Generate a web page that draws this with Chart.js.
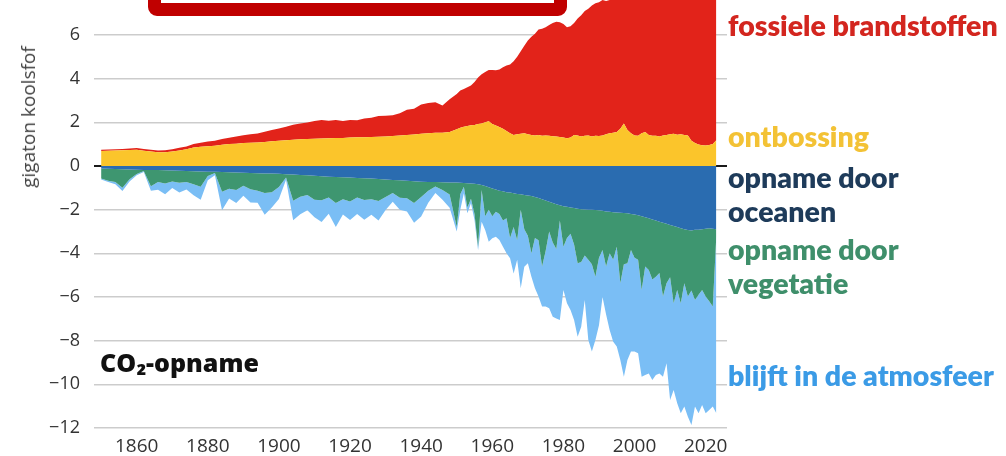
<!DOCTYPE html>
<html>
<head>
<meta charset="utf-8">
<script src="https://cdn.jsdelivr.net/npm/chart.js@4.4.1/dist/chart.umd.min.js"></script>
<style>
  html, body { margin: 0; padding: 0; background: #fff; }
  #wrap { position: relative; width: 1006px; height: 456px; overflow: hidden; }
  #c { position: absolute; left: 0; top: 0; }
  .lbl { position: absolute; left: 728px; font-family: "Lato", "Open Sans", sans-serif; font-weight: 800; font-size: 28.5px; line-height: 34px; white-space: nowrap; }
  #ytitle { position: absolute; left: 28px; top: 117px; transform: translate(-50%, -50%) rotate(-90deg); font-family: "Open Sans", sans-serif; font-size: 19px; color: #444; white-space: nowrap; }
  #co2 { position: absolute; left: 100px; top: 346px; font-family: "Open Sans", sans-serif; font-weight: 800; font-size: 25px; line-height: 32px; color: #111; white-space: nowrap; }
  #box { position: absolute; left: 148px; top: -40px; width: 393px; height: 30px; border: 13px solid #c00000; border-radius: 9px; background: #fff; }
</style>
</head>
<body>
<div id="wrap">
  <canvas id="c" width="1006" height="456"></canvas>
  <div id="box"></div>
  <div id="ytitle">gigaton koolsfof</div>
  <div id="co2">CO₂-opname</div>
  <div class="lbl" style="top:8px;color:#d3261f">fossiele brandstoffen</div>
  <div class="lbl" style="top:119px;color:#f3c235">ontbossing</div>
  <div class="lbl" style="top:160px;color:#1e3b5a">opname door<br>oceanen</div>
  <div class="lbl" style="top:232px;color:#3f8f6b">opname door<br>vegetatie</div>
  <div class="lbl" style="top:358px;color:#3b9be6">blijft in de atmosfeer</div>
</div>
<script>
const years = [
  1850,1852,1854,1856,1858,1860,1862,1864,1866,1868,
  1870,1872,1874,1876,1878,1880,1882,1884,1886,1888,
  1890,1892,1894,1896,1898,1900,1902,1904,1906,1908,
  1910,1912,1914,1916,1918,1920,1922,1924,1926,1928,
  1930,1932,1934,1936,1938,1940,1942,1944,1946,1948,
  1950,1951,1952,1953,1954,1955,1956,1957,1958,1959,
  1960,1961,1962,1963,1964,1965,1966,1967,1968,1969,
  1970,1971,1972,1973,1974,1975,1976,1977,1978,1979,
  1980,1981,1982,1983,1984,1985,1986,1987,1988,1989,
  1990,1991,1992,1993,1994,1995,1996,1997,1998,1999,
  2000,2001,2002,2003,2004,2005,2006,2007,2008,2009,
  2010,2011,2012,2013,2014,2015,2016,2017,2018,2019,
  2020,2021,2022,2023
];

// bronnen (positief, GtC)
const ontbossing = [
  .69,.70,.71,.72,.73,.74,.70,.66,.63,.63,
  .66,.71,.76,.85,.88,.90,.93,.97,1.0,1.02,
  1.05,1.06,1.08,1.10,1.13,1.16,1.18,1.2,1.22,1.24,
  1.25,1.26,1.27,1.28,1.28,1.3,1.31,1.31,1.33,1.34,
  1.35,1.37,1.4,1.42,1.44,1.47,1.5,1.52,1.52,1.55,
  1.68,1.75,1.8,1.83,1.86,1.88,1.92,1.95,2.0,2.05,
  1.92,1.85,1.78,1.7,1.6,1.5,1.42,1.45,1.48,1.5,
  1.45,1.42,1.4,1.42,1.38,1.4,1.38,1.36,1.35,1.33,
  1.3,1.27,1.3,1.42,1.4,1.35,1.38,1.4,1.35,1.38,
  1.37,1.4,1.45,1.5,1.52,1.55,1.7,1.95,1.65,1.5,
  1.4,1.38,1.5,1.55,1.42,1.38,1.38,1.35,1.4,1.42,
  1.45,1.47,1.43,1.45,1.42,1.4,1.15,1.05,0.98,0.95,
  0.94,0.96,1.0,1.18
];
const fossiel = [
  .05,.05,.06,.06,.07,.08,.08,.08,.08,.09,
  .10,.12,.13,.15,.18,.22,.23,.26,.29,.33,
  .36,.39,.41,.47,.52,.56,.62,.69,.73,.75,
  .81,.84,.80,.82,.78,.80,.78,.86,.88,.95,
  .95,.95,1.01,1.15,1.18,1.35,1.38,1.4,1.25,1.5,
  1.62,1.70,1.72,1.77,1.82,1.97,2.13,2.25,2.3,2.35,
  2.48,2.53,2.64,2.82,3.0,3.15,3.38,3.55,3.77,4.0,
  4.3,4.5,4.65,4.83,4.9,4.95,5.07,5.19,5.25,5.25,
  5.2,5.08,5.1,5.13,5.35,5.55,5.72,5.8,6.0,6.07,
  6.13,6.2,6.1,6.1,6.2,6.3,6.5,6.6,6.6,6.6,
  6.8,6.9,7.0,7.4,7.7,8.0,8.2,8.4,8.6,8.5,
  8.9,9.3,9.4,9.5,9.6,9.6,9.6,9.7,9.9,9.9,
  9.4,9.8,9.9,10.1
];

// opname (negatief, GtC)
const oceanen = [
  -.12,-.13,-.14,-.15,-.16,-.17,-.18,-.18,-.19,-.2,
  -.21,-.22,-.23,-.24,-.25,-.26,-.27,-.28,-.29,-.3,
  -.31,-.32,-.33,-.34,-.35,-.36,-.38,-.39,-.41,-.43,
  -.45,-.47,-.49,-.5,-.52,-.53,-.55,-.56,-.58,-.6,
  -.62,-.64,-.66,-.68,-.7,-.72,-.73,-.74,-.75,-.76,
  -.76,-.77,-.78,-.79,-.8,-.82,-.84,-.87,-.92,-.98,
  -1.03,-1.08,-1.13,-1.16,-1.2,-1.22,-1.25,-1.28,-1.3,-1.33,
  -1.35,-1.38,-1.42,-1.47,-1.52,-1.58,-1.64,-1.7,-1.75,-1.8,
  -1.84,-1.87,-1.9,-1.93,-1.96,-1.98,-1.99,-2.0,-2.0,-2.02,
  -2.03,-2.05,-2.08,-2.1,-2.12,-2.13,-2.14,-2.15,-2.17,-2.2,
  -2.22,-2.26,-2.3,-2.35,-2.4,-2.45,-2.5,-2.55,-2.6,-2.65,
  -2.7,-2.75,-2.8,-2.85,-2.9,-2.93,-2.95,-2.92,-2.92,-2.9,
  -2.88,-2.85,-2.88,-2.9
];
const vegetatie = [
  -.45,-.55,-.6,-.85,-.45,-.2,-.05,-.75,-.55,-.6,
  -.5,-.55,-.5,-.6,-.7,-.2,-.05,-.9,-.75,-.8,
  -.6,-.75,-.8,-.9,-.85,-.6,-.15,-1.2,-1.0,-.9,
  -1.1,-1.1,-.95,-1.2,-1.0,-1.1,-.9,-1.0,-.95,-1.0,
  -.8,-.6,-.8,-.8,-1.0,-.7,-.4,-.2,-.35,-.55,
  -2.04,-.53,-.17,-1.11,-.7,-1.38,-2.86,-.23,-1.38,-1.02,
  -1.27,-1.02,-1.07,-1.34,-1.2,-2.08,-1.55,-2.12,-.7,-1.57,
  -1.85,-2.62,-1.88,-1.93,-3.08,-2.32,-1.36,-1.8,-2.05,-.7,
  -1.86,-1.43,-1.2,-1.67,-2.5,-2.42,-2.11,-2.3,-2.5,-3.05,
  -2.17,-1.8,-2.52,-1.9,-2.18,-1.57,-3.23,-2.35,-2.29,-1.65,
  -1.98,-2.04,-3.38,-2.25,-2.36,-2.75,-2.57,-2.35,-3.38,-2.72,
  -2.4,-3.54,-2.88,-3.44,-2.47,-3.05,-2.75,-3.22,-2.98,-2.78,
  -3.1,-3.35,-3.56,-.3
];
const atmosfeer = [
  -.05,-.05,-.1,-.15,-.1,-.05,-.05,-.2,-.35,-.5,
  -.3,-.45,-.35,-.5,-.6,-.2,-.1,-.85,-.45,-.6,
  -.45,-.6,-.55,-1.0,-.7,-.55,-.1,-.9,-.8,-.7,
  -.8,-1.0,-.75,-1.1,-.7,-.85,-.75,-.9,-.7,-.9,
  -.6,-.4,-.55,-.6,-.9,-.9,-.55,-.3,-.45,-.6,
  -.2,-.7,-.3,-.27,-.21,-.27,-.15,-1.45,-.63,-1.47,
  -1.01,-1.14,-1.19,-1.2,-1.6,-.93,-2.12,-.9,-3.6,-1.71,
  -1.26,-1.07,-2.3,-2.58,-1.84,-2.54,-3.52,-3.4,-3.18,-4.55,
  -1.98,-2.99,-3.5,-3.45,-3.36,-2.96,-2.04,-3.67,-4.0,-2.9,
  -3.1,-2.15,-2.2,-3.51,-3.75,-4.57,-3.52,-5.15,-4.43,-4.65,
  -4.3,-4.28,-3.97,-4.97,-4.74,-4.6,-4.5,-4.6,-3.67,-3.67,
  -5.62,-3.97,-5.19,-5.04,-5.65,-5.5,-6.16,-4.88,-5.43,-5.27,
  -5.35,-4.98,-4.58,-8.13
];

const xTicks = [1860,1880,1900,1920,1940,1960,1980,2000,2020];
const yTicks = [-12,-10,-8,-6,-4,-2,0,2,4,6];

const pts = arr => arr.map((v, i) => ({ x: years[i], y: v }));
const area = (label, arr, color, fill) => ({
  label, data: pts(arr), backgroundColor: color, borderColor: 'rgba(0,0,0,0)',
  borderWidth: 0, pointRadius: 0, tension: 0, fill
});

const zeroPad = s => { s.paddingTop = 0; s.paddingBottom = 0; s.paddingLeft = 0; s.paddingRight = 0; };

new Chart(document.getElementById('c'), {
  type: 'line',
  data: {
    datasets: [
      area('ontbossing', ontbossing, '#fbc52b', 'origin'),
      area('fossiele brandstoffen', fossiel, '#e2231a', '-1'),
      area('opname door oceanen', oceanen, '#2a6cb0', 'origin'),
      area('opname door vegetatie', vegetatie, '#3e9670', '-1'),
      area('blijft in de atmosfeer', atmosfeer, '#7abef5', '-1')
    ]
  },
  options: {
    responsive: false,
    animation: false,
    events: [],
    layout: { padding: { left: 0, right: 279, top: 0, bottom: 0 } },
    plugins: { legend: { display: false }, tooltip: { enabled: false } },
    scales: {
      x: {
        type: 'linear', min: 1848, max: 2026,
        afterBuildTicks: s => { s.ticks = xTicks.map(v => ({ value: v })); },
        afterFit: s => { s.height = 28; zeroPad(s); },
        grid: { display: false },
        border: { display: false },
        ticks: { font: { family: 'Open Sans', size: 19 }, color: '#333', padding: -1, maxRotation: 0, autoSkip: false, callback: v => String(v) }
      },
      y: {
        stacked: true, min: -12, max: 7.6, z: 1,
        afterBuildTicks: s => { s.ticks = yTicks.map(v => ({ value: v })); },
        afterFit: s => { s.width = 94; zeroPad(s); },
        grid: {
          color: c => (c.tick && c.tick.value === 0) ? '#1a1a1a' : 'rgba(0,0,0,0.2)',
          lineWidth: c => (c.tick && c.tick.value === 0) ? 2 : 1.5,
          drawTicks: false
        },
        border: { display: false },
        ticks: { font: { family: 'Open Sans', size: 18 }, color: '#333', padding: 14, callback: v => v < 0 ? '\u2212' + Math.abs(v) : String(v) }
      }
    }
  }
});
</script>
</body>
</html>
